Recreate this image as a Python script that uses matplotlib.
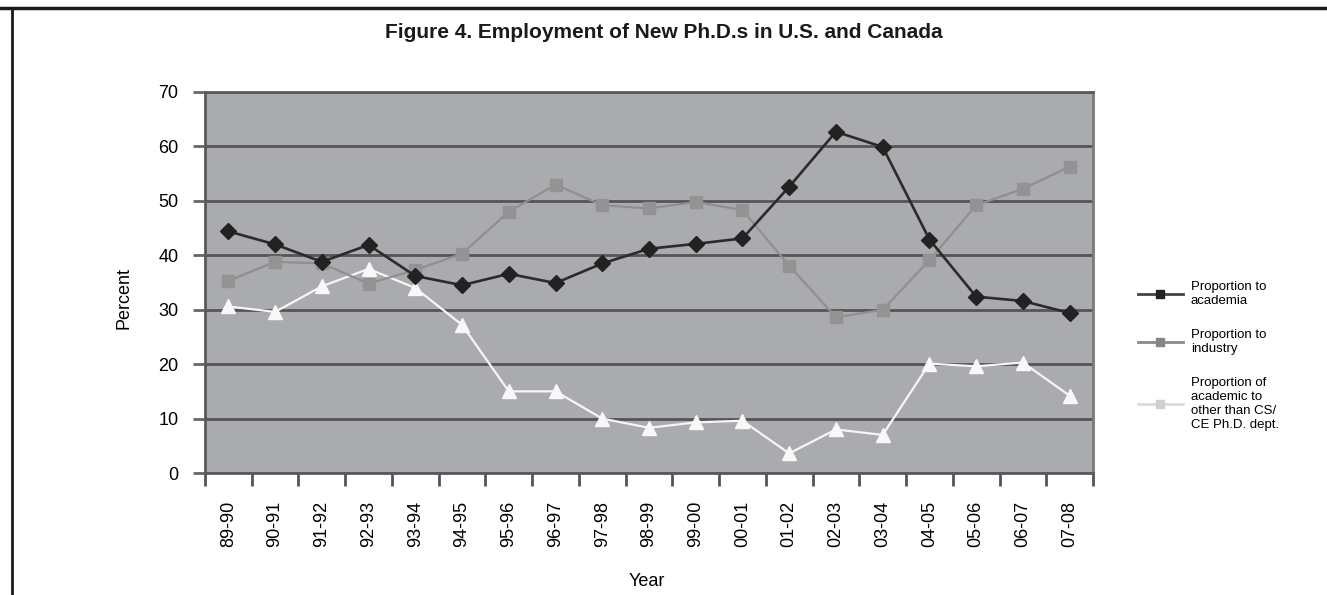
import matplotlib
matplotlib.use('Agg')
import matplotlib.pyplot as plt
from matplotlib.lines import Line2D
import numpy as np

plt.rcParams['font.family'] = ['Liberation Sans Narrow', 'Liberation Sans', 'DejaVu Sans']

# Data
years = ['89-90', '90-91', '91-92', '92-93', '93-94', '94-95', '95-96', '96-97',
         '97-98', '98-99', '99-00', '00-01', '01-02', '02-03', '03-04', '04-05',
         '05-06', '06-07', '07-08']
academia = [44.4, 42.0, 38.8, 41.9, 36.2, 34.5, 36.6, 34.9, 38.5, 41.2, 42.1, 43.1,
            52.6, 62.7, 59.9, 42.9, 32.4, 31.6, 29.4]
industry = [35.3, 38.8, 38.5, 34.8, 37.3, 40.3, 48.0, 53.0, 49.2, 48.6, 49.8, 48.3,
            38.1, 28.6, 30.0, 39.1, 49.2, 52.2, 56.3]
other_dept = [30.6, 29.6, 34.3, 37.5, 34.0, 27.2, 15.0, 15.0, 10.0, 8.3, 9.3, 9.6,
              3.6, 8.0, 7.0, 20.1, 19.6, 20.3, 14.2]

labels = ['Proportion to\nacademia', 'Proportion to\nindustry',
          'Proportion of\nacademic to\nother than CS/\nCE Ph.D. dept.']

W, H = 1327, 595
fig = plt.figure(figsize=(W / 100, H / 100), dpi=100)
ax = fig.add_axes([205 / W, 1 - 473 / H, (1093 - 205) / W, (473 - 92) / H])

x = np.arange(len(years))
ax.set_facecolor('#aaabaf')
ax.plot(x, academia, color='#2b2b2b', lw=1.9, marker='D', ms=8,
        mfc='#222222', mec='#222222', zorder=5)
ax.plot(x, industry, color='#8f8f8f', lw=1.6, marker='s', ms=9,
        mfc='#939393', mec='#939393', zorder=4)
ax.plot(x, other_dept, color='#f6f6f6', lw=1.6, marker='^', ms=10,
        mfc='#f8f8f8', mec='#f8f8f8', zorder=3)

ax.set_xlim(-0.5, len(years) - 0.5)
ax.set_ylim(0, 70)
ax.set_yticks(range(0, 71, 10))
ax.yaxis.grid(True, color='#555557', lw=2)
ax.set_axisbelow(True)

ax.set_xticks(x)
ax.set_xticklabels(years, rotation=90, fontsize=13)
ax.set_xticks(np.arange(-0.5, len(years), 1), minor=True)
ax.tick_params(axis='x', which='major', length=0, pad=20)
ax.tick_params(axis='x', which='minor', length=9, width=2, color='#555555')
ax.tick_params(axis='y', length=9, width=2, color='#666666', pad=10, labelsize=13)

for s in ax.spines.values():
    s.set_color('#5a5a5c')
    s.set_linewidth(2)
ax.spines['right'].set_color('#7a7a7c')

ax.set_ylabel('Percent', fontsize=13)
ax.yaxis.set_label_coords(-0.082, 0.46)
ax.set_xlabel('Year', fontsize=13)
ax.xaxis.set_label_coords(0.497, -0.262)

fig.text(0.5, 1 - 33 / H, 'Figure 4. Employment of New Ph.D.s in U.S. and Canada',
         ha='center', va='center', fontsize=15, fontweight='bold', color='#1a1a1a')

# frame lines of the figure box
fig.add_artist(Line2D([0, 1], [1 - 8 / H, 1 - 8 / H], color='#1a1a1a', lw=2.5))
fig.add_artist(Line2D([11.5 / W, 11.5 / W], [0, 1 - 8 / H], color='#1a1a1a', lw=2))

handles = [
    Line2D([], [], color='#444444', lw=2, marker='s', ms=6, mfc='#222222', mec='#222222'),
    Line2D([], [], color='#8a8a8a', lw=2, marker='s', ms=6, mfc='#858585', mec='#858585'),
    Line2D([], [], color='#dcdcdc', lw=2, marker='s', ms=6, mfc='#d0d0d0', mec='#d0d0d0'),
]
fig.legend(handles, labels, loc='upper left', bbox_to_anchor=(1138 / W, 1 - 281 / H),
           bbox_transform=fig.transFigure, frameon=False, fontsize=9.5,
           handlelength=3.4, handletextpad=0.6, labelspacing=1.7,
           borderpad=0, borderaxespad=0)

fig.savefig('out.png', dpi=100)
